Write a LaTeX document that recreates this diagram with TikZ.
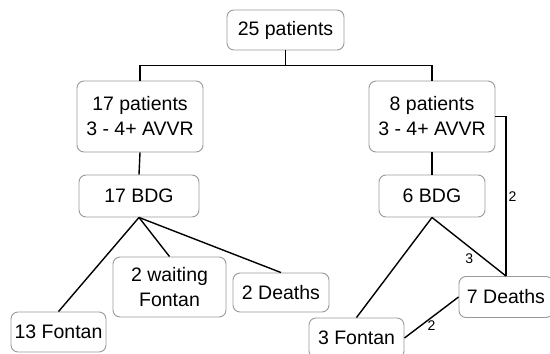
\documentclass[tikz,border=0pt]{standalone}
\usepackage{fontspec}
\setmainfont{Liberation Sans}
\begin{document}
\begin{tikzpicture}[x=1pt,y=-1pt,
	box/.style={draw=gray!80,line width=0.9pt,rounded corners=7pt,align=center,inner sep=2pt,
		font=\fontsize{19.5}{25}\selectfont},
	link/.style={line width=1.4pt},
	num/.style={font=\fontsize{14}{16}\selectfont,inner sep=2pt}]
	\useasboundingbox (0,0) rectangle (550,354);
	% boxes
	\node[box,minimum width=117pt,minimum height=40pt] (all) at (285.5,30) {25 patients};
	\node[box,minimum width=126pt,minimum height=71pt] (left) at (140,116.5) {17 patients\\3 - 4+ AVVR};
	\node[box,minimum width=126pt,minimum height=71pt] (right) at (432,116.5) {8 patients\\3 - 4+ AVVR};
	\node[box,minimum width=120pt,minimum height=42pt] (bdgL) at (139,196) {17 BDG};
	\node[box,minimum width=106pt,minimum height=42pt] (bdgR) at (432,196) {6 BDG};
	\node[box,minimum width=95pt,minimum height=40pt] (fontanL) at (58.5,332) {13 Fontan};
	\node[box,minimum width=113pt,minimum height=60pt] (waiting) at (169.5,287) {2 waiting\\Fontan};
	\node[box,minimum width=96pt,minimum height=39pt] (deathsL) at (281,292.5) {2 Deaths};
	\node[box,minimum width=95pt,minimum height=40pt] (fontanR) at (356.5,338) {3 Fontan};
	\node[box,minimum width=94pt,minimum height=41pt] (deathsR) at (506,297) {7 Deaths};
	% links
	\draw[link] (all.south) -- ++(0,15) -| (left.north);
	\draw[link] (all.south) -- ++(0,15) -| (right.north);
	\draw[link] (left.south) -- (bdgL.north);
	\draw[link] (right.south) -- (bdgR.north);
	\draw[link] (bdgL.south) -- (fontanL.north);
	\draw[link] (bdgL.south) -- (waiting.north);
	\draw[link] (bdgL.south) -- (deathsL.north);
	\draw[link] (bdgR.south) -- (fontanR.north);
	\draw[link] (bdgR.south) -- node[num,pos=0.7,left=8pt]{3} (deathsR.north);
	\draw[link] (right.east) -| node[num,pos=0.75,right=0pt]{2} (deathsR.north);
	\draw[link] (fontanR.east) -- node[num,midway,below=1pt]{2} (deathsR.west);
\end{tikzpicture}
\end{document}
